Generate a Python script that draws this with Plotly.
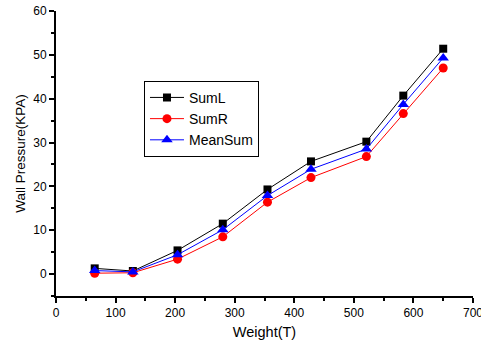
import plotly.graph_objects as go

weight = [65, 129, 204, 280, 355, 428, 521, 583, 650]
sum_l = [1.3, 0.7, 5.4, 11.5, 19.3, 25.7, 30.2, 40.7, 51.4]
sum_r = [0.2, 0.3, 3.4, 8.5, 16.4, 22.0, 26.8, 36.6, 47.0]
mean_sum = [0.8, 0.5, 4.4, 10.1, 17.9, 23.9, 28.5, 38.7, 49.3]

fig = go.Figure()
fig.add_trace(go.Scatter(x=weight, y=sum_l, name="SumL", mode="lines+markers",
                         line=dict(color="black", width=1),
                         marker=dict(symbol="square", size=8, color="black")))
fig.add_trace(go.Scatter(x=weight, y=sum_r, name="SumR", mode="lines+markers",
                         line=dict(color="red", width=1),
                         marker=dict(symbol="circle", size=9, color="red")))
fig.add_trace(go.Scatter(x=weight, y=mean_sum, name="MeanSum", mode="lines+markers",
                         line=dict(color="blue", width=1),
                         marker=dict(symbol="triangle-up", size=10, color="blue")))

axis_common = dict(showline=True, linecolor="black", linewidth=2, showgrid=False,
                   zeroline=False, ticks="outside", ticklen=5, tickwidth=1.5,
                   tickcolor="black", mirror=False, ticklabeloverflow="allow",
                   automargin=False,
                   tickfont=dict(family="Liberation Sans, Arial", size=12, color="black"))

fig.update_layout(
    width=481, height=344,
    margin=dict(l=56, r=8, t=11, b=48),
    paper_bgcolor="white", plot_bgcolor="white",
    font=dict(family="Liberation Sans, Arial", size=12, color="black"),
    xaxis=dict(range=[0, 700], dtick=100,
               title=dict(text="Weight(T)", font=dict(size=14.5), standoff=7),
               minor=dict(ticks="outside", dtick=50, ticklen=3, tickcolor="black"),
               **axis_common),
    yaxis=dict(range=[-5, 60], tickvals=[0, 10, 20, 30, 40, 50, 60],
               title=dict(text="Wall Pressure(KPA)", font=dict(size=13.5), standoff=5),
               minor=dict(ticks="outside", dtick=5, ticklen=3, tickcolor="black"),
               **axis_common),
    legend=dict(x=0.211, y=0.755, xanchor="left", yanchor="top",
                bordercolor="black", borderwidth=1, bgcolor="white",
                font=dict(size=14), tracegroupgap=0, itemwidth=34),
    showlegend=True,
)

fig.write_html("out.html")
